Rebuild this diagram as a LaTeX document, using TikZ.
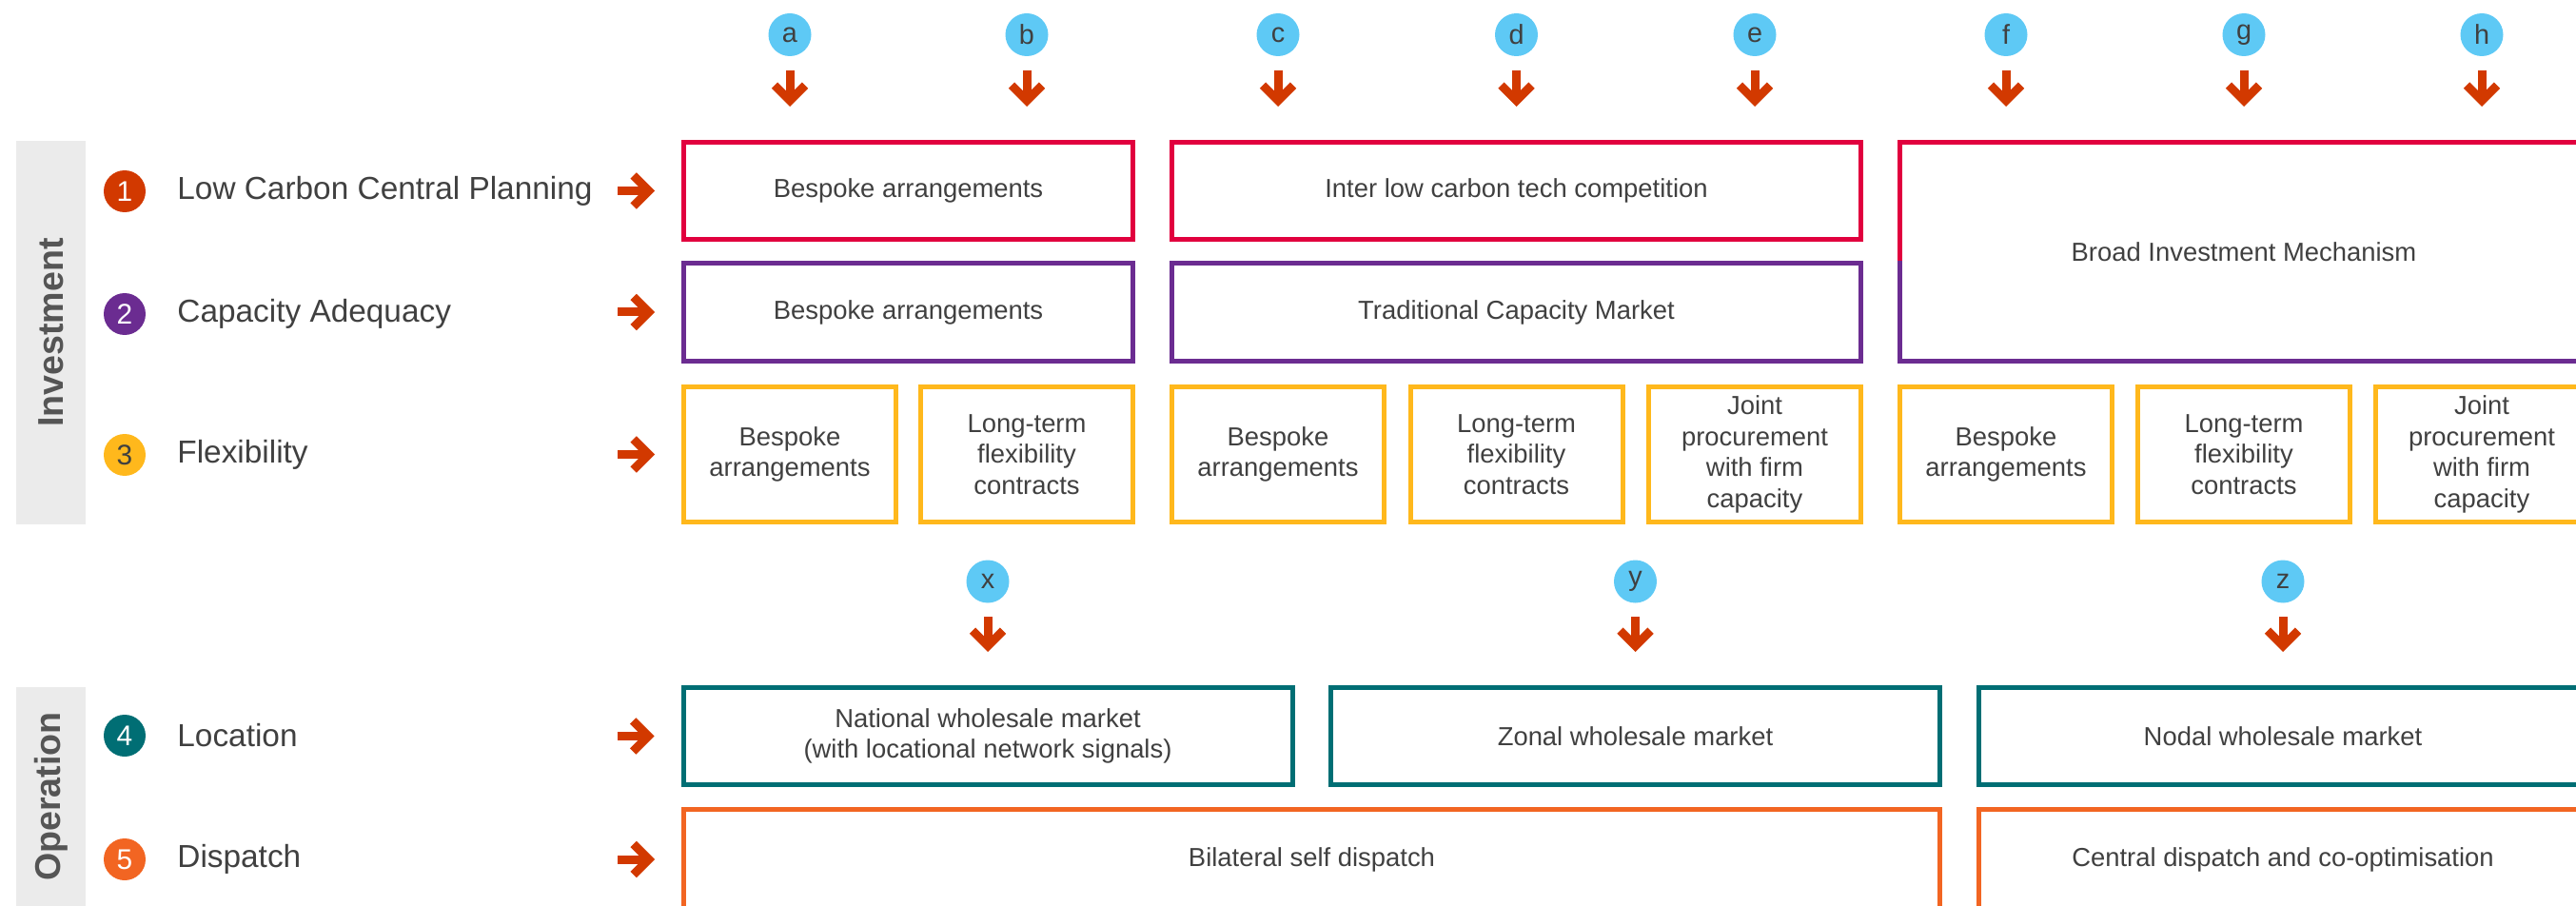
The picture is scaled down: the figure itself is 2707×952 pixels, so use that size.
\documentclass[tikz,border=0pt]{standalone}
\usepackage{fontspec}
\setmainfont{Liberation Sans}
\usetikzlibrary{positioning, arrows.meta}
\definecolor{rojo}{RGB}{225,0,62}
\definecolor{morado}{RGB}{107,44,145}
\definecolor{ambar}{RGB}{255,184,28}
\definecolor{petroleo}{RGB}{0,110,116}
\definecolor{naranja}{RGB}{242,101,34}
\definecolor{bermellon}{RGB}{210,57,0}
\definecolor{celeste}{RGB}{94,201,245}
\definecolor{grisoscuro}{RGB}{64,64,64}
\definecolor{grismedio}{RGB}{85,85,85}
\definecolor{grisclaro}{RGB}{235,235,235}
\tikzset{
    caja/.style={rectangle, draw, line width=0.5mm, inner sep=0pt, align=center,
        text=grisoscuro, font=\fontsize{7.8}{9.3}\selectfont},
    flex/.style={caja, draw=ambar, minimum width=22.3mm, minimum height=14.2mm},
    mercado/.style={caja, draw=petroleo, minimum width=64mm, minimum height=10.2mm},
    marca/.style={circle, fill=celeste, minimum size=4.5mm, inner sep=0pt,
        text=grisoscuro, font=\fontsize{8.2}{10}\selectfont},
    numero/.style={circle, minimum size=4.4mm, inner sep=0pt, text=white,
        font=\fontsize{8.5}{10}\selectfont},
    etiqueta/.style={inner sep=0pt, text=grisoscuro, font=\fontsize{9.5}{11}\selectfont},
    franja/.style={rectangle, fill=grisclaro, inner sep=0pt, rotate=90,
        text=grismedio, font=\fontsize{10.7}{12}\selectfont\bfseries},
    flecha/.style={draw=bermellon, line width=0.9mm,
        -{Straight Barb[sharp, length=1.6mm, width=3.2mm, line width=0.9mm]}},
    bajada/.style={flecha, shorten <=1.4mm, shorten >=3.5mm},
    entrada/.style={flecha, shorten >=2.8mm}}
\begin{document}
\begin{tikzpicture}[x=0.1mm, y=-0.1mm]
    \useasboundingbox (0,0) rectangle (2707,952);
    \clip (0,0) rectangle (2707,952);
    % Franjas laterales
    \node[franja, minimum width=40.3mm, minimum height=7.3mm] (inv) at (53.5,349.5) {Investment};
    \node[franja, minimum width=23mm, minimum height=7.3mm] (ope) at (53.5,837) {Operation};
    % Etiquetas de fila
    \node[numero, fill=bermellon] (n1) at (131,201) {1};
    \node[etiqueta, right=3.2mm of n1] (l1) {Low Carbon Central Planning};
    \node[numero, fill=morado] (n2) at (131,330) {2};
    \node[etiqueta, right=3.2mm of n2] (l2) {Capacity Adequacy};
    \node[numero, fill=ambar, text=grisoscuro] (n3) at (131,478) {3};
    \node[etiqueta, right=3.2mm of n3] (l3) {Flexibility};
    \node[numero, fill=petroleo] (n4) at (131,773) {4};
    \node[etiqueta, right=3.2mm of n4] (l4) {Location};
    \node[numero, fill=naranja] (n5) at (131,903) {5};
    \node[etiqueta, right=3.2mm of n5] (l5) {Dispatch};
    % Primera fila
    \node[caja, draw=rojo, minimum width=47.2mm, minimum height=10.2mm] (r1a) at (954.5,200.5) {Bespoke arrangements};
    \node[caja, draw=rojo, minimum width=72.4mm, minimum height=10.2mm] (r1b) at (1593.5,200.5) {Inter low carbon tech competition};
    % Segunda fila
    \node[caja, draw=morado, minimum width=47.2mm, minimum height=10.3mm] (r2a) at (954.5,328) {Bespoke arrangements};
    \node[caja, draw=morado, minimum width=72.4mm, minimum height=10.3mm] (r2b) at (1593.5,328) {Traditional Capacity Market};
    \node[caja, draw=none, minimum width=72.3mm, minimum height=23mm] (bim) at (2358,264.5) {Broad Investment Mechanism};
    \draw[rojo, line width=0.5mm] (1996.5,274) |- (2719.5,149.5) -- (2719.5,274);
    \draw[morado, line width=0.5mm] (1996.5,274) |- (2719.5,379.5) -- (2719.5,274);
    % Tercera fila
    \node[flex] (p1) at (830,477.5) {Bespoke\\arrangements};
    \node[flex] (p2) at (1079,477.5) {Long-term\\flexibility\\contracts};
    \node[flex] (p3) at (1343,477.5) {Bespoke\\arrangements};
    \node[flex] (p4) at (1593.5,477.5) {Long-term\\flexibility\\contracts};
    \node[flex] (p5) at (1844,477.5) {Joint\\procurement\\with firm\\capacity};
    \node[flex] (p6) at (2108,477.5) {Bespoke\\arrangements};
    \node[flex] (p7) at (2358,477.5) {Long-term\\flexibility\\contracts};
    \node[flex] (p8) at (2608,477.5) {Joint\\procurement\\with firm\\capacity};
    % Cuarta y quinta fila
    \node[mercado] (w1) at (1038,773.5) {National wholesale market\\(with locational network signals)};
    \node[mercado] (w2) at (1718.5,773.5) {Zonal wholesale market};
    \node[mercado] (w3) at (2399,773.5) {Nodal wholesale market};
    \node[caja, draw=naranja, minimum width=132mm, minimum height=10.5mm] (d1) at (1378.5,903) {Bilateral self dispatch};
    \node[caja, draw=naranja, minimum width=64mm, minimum height=10.5mm] (d2) at (2399,903) {Central dispatch and co-optimisation};
    % Marcas
    \node[marca] (ma) at (830,36.5) {a};
    \node[marca] (mb) at (1079,36.5) {b};
    \node[marca] (mc) at (1343,36.5) {c};
    \node[marca] (md) at (1593.5,36.5) {d};
    \node[marca] (me) at (1844,36.5) {e};
    \node[marca] (mf) at (2108,36.5) {f};
    \node[marca] (mg) at (2358,36.5) {g};
    \node[marca] (mh) at (2608,36.5) {h};
    \node[marca] (mx) at (1038,611) {x};
    \node[marca] (my) at (1718.5,611) {y};
    \node[marca] (mz) at (2399,611) {z};
    % Flechas
    \draw[bajada] (ma) -- (ma |- r1a.north);
    \draw[bajada] (mb) -- (mb |- r1a.north);
    \draw[bajada] (mc) -- (mc |- r1b.north);
    \draw[bajada] (md) -- (md |- r1b.north);
    \draw[bajada] (me) -- (me |- r1b.north);
    \draw[bajada] (mf) -- (mf |- bim.north);
    \draw[bajada] (mg) -- (mg |- bim.north);
    \draw[bajada] (mh) -- (mh |- bim.north);
    \draw[bajada] (mx) -- (mx |- w1.north);
    \draw[bajada] (my) -- (my |- w2.north);
    \draw[bajada] (mz) -- (mz |- w3.north);
    \draw[entrada] ([xshift=-6.7mm]r1a.west) -- (r1a);
    \draw[entrada] ([xshift=-6.7mm]r2a.west) -- (r2a);
    \draw[entrada] ([xshift=-6.7mm]p1.west) -- (p1);
    \draw[entrada] ([xshift=-6.7mm]w1.west) -- (w1);
    \draw[entrada] ([xshift=-6.7mm]d1.west) -- (d1);
\end{tikzpicture}
\end{document}
